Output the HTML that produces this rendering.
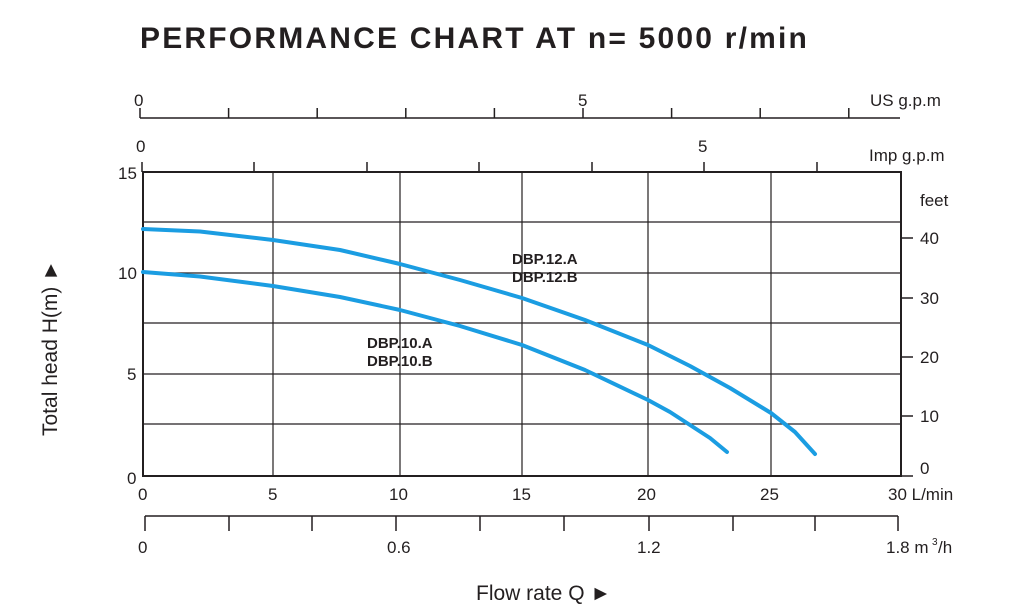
<!DOCTYPE html>
<html><head><meta charset="utf-8"><style>
body{margin:0;background:#fff}
svg text{font-family:"Liberation Sans",sans-serif;fill:#231f20}
</style></head><body>
<svg width="1031" height="609" viewBox="0 0 1031 609" xmlns="http://www.w3.org/2000/svg">
<text x="140" y="48" font-size="30" font-weight="bold" letter-spacing="2.2">PERFORMANCE CHART AT n= 5000 r/min</text>
<g stroke="#231f20" stroke-width="1.5" fill="none">
<line x1="140" y1="118" x2="900" y2="118"/>
<path d="M140 118V108M228.6 118V108M317.2 118V108M405.8 118V108M494.4 118V108M583 118V108M671.6 118V108M760.2 118V108M848.8 118V108"/>
<path d="M142 172V162M254 172V162M367 172V162M479 172V162M592 172V162M704 172V162M817 172V162"/>
<path d="M273 172V476M400 172V476M522 172V476M648 172V476M771 172V476" stroke-width="1.2"/>
<path d="M143 222H901M143 273H901M143 323H901M143 374H901M143 424H901" stroke-width="1.2"/>
<rect x="143" y="172" width="758" height="304" stroke-width="2"/>
<path d="M901 238H913M901 298H913M901 357H913M901 416H913M901 476H913"/>
<line x1="145" y1="516" x2="898" y2="516"/>
<path d="M145 516V531M229 516V531M312 516V531M396 516V531M480 516V531M564 516V531M649 516V531M733 516V531M815 516V531M898 516V531"/>
</g>
<g stroke="#1b9de2" stroke-width="4" fill="none" stroke-linecap="round" stroke-linejoin="round">
<polyline points="143,229 200,231.5 273,240 340,250 400,264 460,280 522,298 585,320 648,345 690,366 730,388 771,413 795,432 815,454"/>
<polyline points="143,272 200,276.5 273,286 340,297 400,310 460,326 522,345 585,370 648,400 670,412 690,425 710,438 727,452"/>
</g>
<g font-size="17">
<text x="134" y="106">0</text><text x="578" y="106">5</text>
<text x="870" y="106">US g.p.m</text>
<text x="136" y="152">0</text><text x="698" y="152">5</text>
<text x="869" y="161">Imp g.p.m</text>
<text x="118" y="179">15</text><text x="118" y="279">10</text><text x="127" y="380">5</text><text x="127" y="484">0</text>
<text x="920" y="206">feet</text>
<text x="920" y="244">40</text><text x="920" y="304">30</text><text x="920" y="363">20</text><text x="920" y="422">10</text><text x="920" y="474">0</text>
<text x="138" y="500">0</text><text x="268" y="500">5</text><text x="389" y="500">10</text><text x="512" y="500">15</text><text x="637" y="500">20</text><text x="760" y="500">25</text><text x="888" y="500">30 L/min</text>
<text x="138" y="553">0</text><text x="387" y="553">0.6</text><text x="637" y="553">1.2</text><text x="886" y="553">1.8 m</text><text x="932" y="545" font-size="10">3</text><text x="938" y="553">/h</text>
</g>
<g font-size="15" font-weight="bold">
<text x="512" y="264">DBP.12.A</text><text x="512" y="282">DBP.12.B</text>
<text x="367" y="348">DBP.10.A</text><text x="367" y="366">DBP.10.B</text>
</g>
<text x="476" y="600" font-size="21">Flow rate  Q ►</text>
<text transform="translate(57,436) rotate(-90)" font-size="21">Total  head H(m) ►</text>
</svg>
</body></html>
